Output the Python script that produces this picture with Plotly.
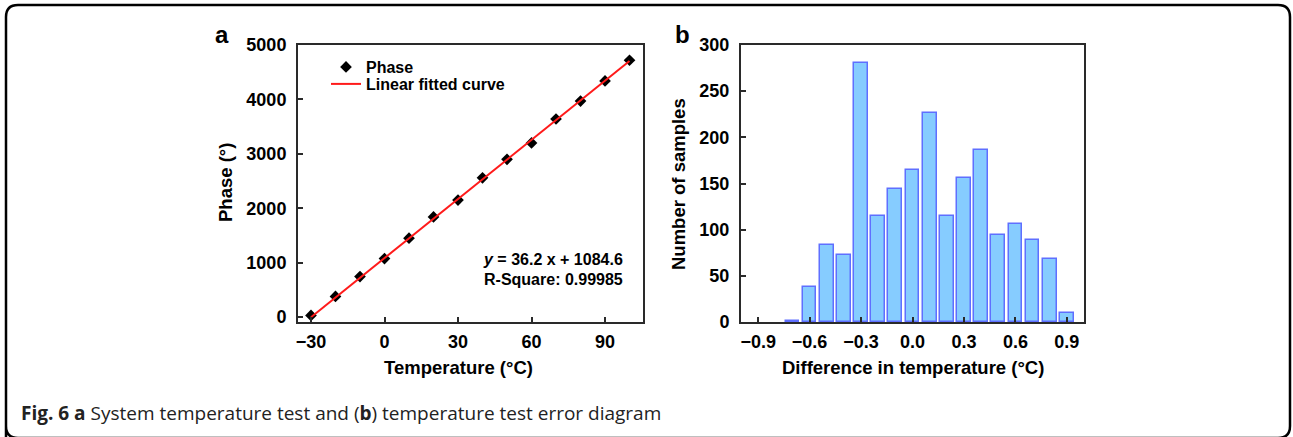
import plotly.graph_objects as go

# ---------------- data ----------------
# Panel a: phase vs temperature, with its linear fit
temperature_c = [-30, -20, -10, 0, 10, 20, 30, 40, 50, 60, 70, 80, 90, 100]
phase_deg = [30, 380, 745, 1075, 1450, 1840, 2150, 2560, 2900, 3200, 3640, 3970, 4340, 4720]
fit_slope = 36.2
fit_intercept = 1084.6
fit_r_square = 0.99985

# Panel b: histogram of the temperature error (empty bins omitted)
diff_bins = [-0.7, -0.6, -0.5, -0.4, -0.3, -0.2, -0.1, 0.0,
             0.1, 0.2, 0.3, 0.4, 0.5, 0.6, 0.7, 0.8, 0.9]
sample_counts = [1, 38, 83, 73, 281, 115, 144, 165,
                 226, 115, 156, 186, 94, 106, 89, 68, 10]

x_ticks_a = [-30, 0, 30, 60, 90]
y_ticks_a = [0, 1000, 2000, 3000, 4000, 5000]
x_ticks_b = [-0.9, -0.6, -0.3, 0.0, 0.3, 0.6, 0.9]
y_ticks_b = [0, 50, 100, 150, 200, 250, 300]

# ---------------- layout helpers ----------------
W, H = 1293, 437


def px_x(p):
    return p / W


def px_y(p):
    return 1 - p / H


FONT = "Liberation Sans, Arial, Helvetica, sans-serif"
AXIS_COLOR = "#2a2a2a"
LEGEND_FONT = dict(family=FONT, size=16, color="black", weight="bold")

fig = go.Figure()

fit_x = [temperature_c[0], temperature_c[-1]]
fit_y = [fit_slope * t + fit_intercept for t in fit_x]

fig.add_trace(go.Scatter(
    x=temperature_c, y=phase_deg, mode="markers", name="Phase",
    marker=dict(symbol="diamond", size=9, color="black"),
    xaxis="x", yaxis="y", legend="legend",
))
fig.add_trace(go.Scatter(
    x=fit_x, y=fit_y, mode="lines", name="Linear fitted curve",
    line=dict(color="#ff1a1a", width=2),
    xaxis="x", yaxis="y", legend="legend2",
))
fig.add_trace(go.Bar(
    x=diff_bins, y=sample_counts, width=0.08, showlegend=False,
    marker=dict(color="#86ccff", line=dict(color="#5f6fff", width=1.5)),
    xaxis="x2", yaxis="y2",
))

axis_common = dict(
    showline=True, mirror=True, linecolor=AXIS_COLOR, linewidth=2,
    ticks="inside", ticklen=5, tickwidth=2, tickcolor=AXIS_COLOR,
    showgrid=False, zeroline=False, automargin=False,
    tickfont=dict(family=FONT, size=18, color="black", weight="bold"),
)
x_axis_common = dict(axis_common, ticklabelstandoff=2)
y_axis_common = dict(axis_common, ticklabelstandoff=6)

top_px, bottom_px = 45, 322
fig.update_layout(
    width=W, height=H,
    margin=dict(l=0, r=0, t=0, b=0, pad=0, autoexpand=False),
    paper_bgcolor="white", plot_bgcolor="white",
    xaxis=dict(domain=[px_x(298), px_x(643)], range=[-35.3, 105.5],
               tickvals=x_ticks_a, ticktext=["\u221230", "0", "30", "60", "90"],
               anchor="y", **x_axis_common),
    yaxis=dict(domain=[px_y(bottom_px), px_y(top_px)], range=[-90, 5000],
               tickvals=y_ticks_a, anchor="x", **y_axis_common),
    xaxis2=dict(domain=[px_x(741), px_x(1084)], range=[-1.0, 1.0],
                tickvals=x_ticks_b,
                ticktext=["\u22120.9", "\u22120.6", "\u22120.3", "0.0", "0.3", "0.6", "0.9"],
                anchor="y2", **x_axis_common),
    yaxis2=dict(domain=[px_y(bottom_px), px_y(top_px)], range=[0, 300],
                tickvals=y_ticks_b, anchor="x2", **y_axis_common),
    legend=dict(x=px_x(326), y=px_y(67), xanchor="left", yanchor="middle",
                bgcolor="rgba(0,0,0,0)", borderwidth=0, font=LEGEND_FONT),
    legend2=dict(x=px_x(326), y=px_y(84), xanchor="left", yanchor="middle",
                 bgcolor="rgba(0,0,0,0)", borderwidth=0, font=LEGEND_FONT),
    bargap=0,
)

annotations = [
    # panel letters
    dict(x=px_x(222), y=px_y(35), text="a", font=dict(size=24)),
    dict(x=px_x(682), y=px_y(35), text="b", font=dict(size=24)),
    # axis titles
    dict(x=px_x(458), y=px_y(367), text="Temperature (\u00b0C)", font=dict(size=18.5)),
    dict(x=px_x(225), y=px_y(183), text="Phase (\u00b0)", textangle=-90, font=dict(size=18.5)),
    dict(x=px_x(913), y=px_y(367), text="Difference in temperature (\u00b0C)", font=dict(size=18.5)),
    dict(x=px_x(678), y=px_y(184), text="Number of samples", textangle=-90, font=dict(size=18.5)),
    # fit equation
    dict(x=px_x(625), y=px_y(259), xanchor="right",
         text=f"<i>y</i> = {fit_slope} x + {fit_intercept}", font=dict(size=16)),
    dict(x=px_x(625), y=px_y(279), xanchor="right",
         text=f"R-Square: {fit_r_square}", font=dict(size=16)),
]
for a in annotations:
    a.setdefault("xanchor", "center")
    a.update(xref="paper", yref="paper", yanchor="middle", showarrow=False)
    a["font"] = dict(family=FONT, color="black", weight="bold", **a["font"])
    fig.add_annotation(**a)

# figure caption
fig.add_annotation(
    xref="paper", yref="paper", x=px_x(19), y=px_y(413), xanchor="left", yanchor="middle",
    showarrow=False,
    text="<b>Fig. 6 a</b> System temperature test and (<b>b</b>) temperature test error diagram",
    font=dict(family="Open Sans, Noto Sans, sans-serif", size=19, color="#222"),
)

# rounded frame around the whole figure
x0, x1, y0, y1, r = 6, 1290, 5, 438, 12
path = (
    f"M {px_x(x0)},{px_y(y1)} L {px_x(x0)},{px_y(y0 + r)} "
    f"Q {px_x(x0)},{px_y(y0)} {px_x(x0 + r)},{px_y(y0)} "
    f"L {px_x(x1 - r)},{px_y(y0)} Q {px_x(x1)},{px_y(y0)} {px_x(x1)},{px_y(y0 + r)} "
    f"L {px_x(x1)},{px_y(y1 - r)} Q {px_x(x1)},{px_y(y1)} {px_x(x1 - r)},{px_y(y1)} "
    f"L {px_x(x0 + r)},{px_y(y1)} Q {px_x(x0)},{px_y(y1)} {px_x(x0)},{px_y(y1 - r)} Z"
)
fig.add_shape(type="path", xref="paper", yref="paper", path=path,
              line=dict(color="black", width=2.5), layer="above")

fig.write_html("out.html")
